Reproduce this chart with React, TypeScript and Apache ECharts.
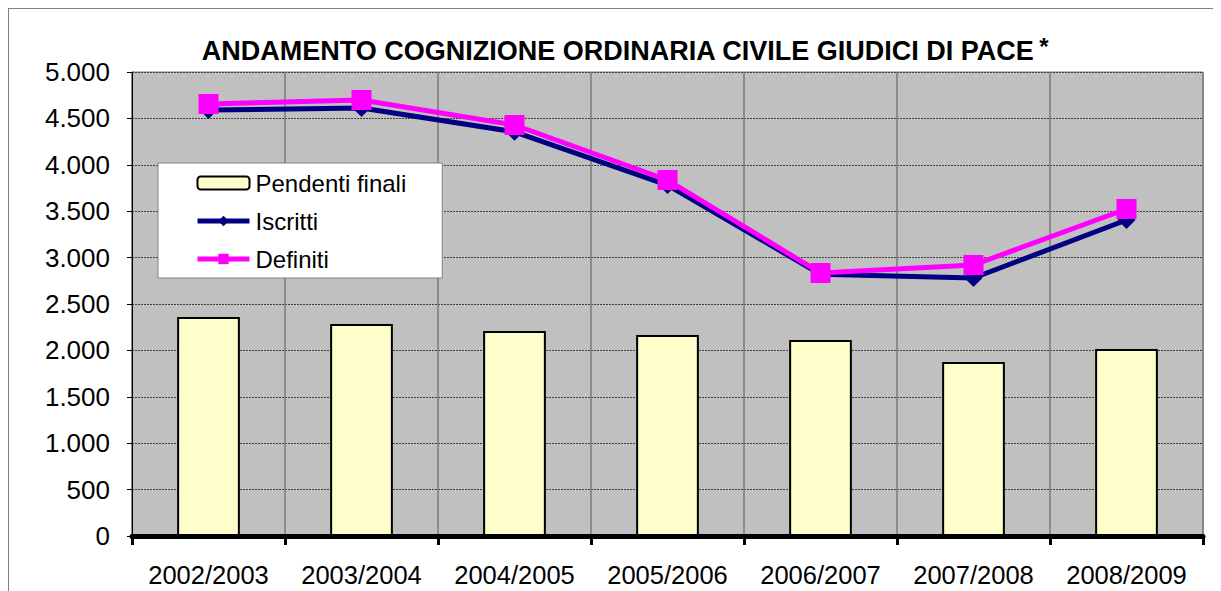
import React, { useEffect, useRef } from "react";
import * as echarts from "echarts";

const categories = ["2002/2003", "2003/2004", "2004/2005", "2005/2006", "2006/2007", "2007/2008", "2008/2009"];
const pendentiFinali = [2360, 2284, 2209, 2166, 2112, 1875, 2015];
const iscritti = [4590, 4612, 4355, 3782, 2820, 2780, 3405];
const definiti = [4655, 4698, 4429, 3836, 2834, 2920, 3524];
const titleText = "ANDAMENTO COGNIZIONE ORDINARIA CIVILE GIUDICI DI PACE";

const fmt = (v: number) =>
  v >= 1000 ? Math.floor(v / 1000) + "." + String(v % 1000).padStart(3, "0") : String(v);

export default function App() {
  const ref = useRef<HTMLDivElement>(null);
  useEffect(() => {
    if (!ref.current) return;
    const chart = echarts.init(ref.current, null, { renderer: "svg" });
    const font = "Liberation Sans, Arial, sans-serif";
    chart.setOption({
      animation: false,
      backgroundColor: "#ffffff",
      textStyle: { fontFamily: font },
      title: {
        text: "{t|" + titleText + "} {s|*}",
        left: 611,
        top: 20,
        textAlign: "center",
        textStyle: {
          rich: {
            t: { fontSize: 27, fontWeight: "bold", color: "#000", fontFamily: font },
            s: { fontSize: 24, fontWeight: "bold", color: "#000", fontFamily: font, verticalAlign: "top", padding: [0, 0, 10, 0] },
          },
        },
      },
      legend: {
        orient: "vertical",
        left: 149,
        top: 154,
        padding: [8, 36, 7, 37],
        itemGap: 14,
        itemWidth: 52,
        itemHeight: 13,
        backgroundColor: "#ffffff",
        borderColor: "#808080",
        borderWidth: 1,
        borderRadius: 0,
        textStyle: { fontSize: 24, color: "#000", fontFamily: font, padding: [0, 0, 0, 1] },
        data: [
          { name: "Pendenti finali", itemStyle: { color: "#FFFFCC", borderColor: "#000", borderWidth: 2 } },
          { name: "Iscritti", lineStyle: { width: 5, color: "#000080" } },
          { name: "Definiti", lineStyle: { width: 5, color: "#FF00FF" } },
        ],
      },
      grid: {
        left: 123,
        top: 63,
        right: 18,
        bottom: 55,
        show: true,
        backgroundColor: "#C0C0C0",
        borderColor: "#808080",
        borderWidth: 1,
      },
      xAxis: {
        type: "category",
        data: categories,
        boundaryGap: true,
        axisLine: { show: true, lineStyle: { color: "#000", width: 5 } },
        axisTick: { show: true, interval: 0, length: 9, lineStyle: { color: "#000", width: 3 } },
        axisLabel: { fontSize: 25.5, interval: 0, color: "#000", margin: 26, fontFamily: font },
        splitLine: { show: true, interval: 0, lineStyle: { color: "#7a7a7a", width: 1.5 } },
      },
      yAxis: {
        type: "value",
        min: 0,
        max: 5000,
        interval: 500,
        axisLine: { show: true, lineStyle: { color: "#000", width: 1 } },
        axisTick: { show: true, length: 5, lineStyle: { color: "#000" } },
        axisLabel: { fontSize: 26, color: "#000", margin: 22, formatter: fmt, fontFamily: font },
        splitLine: { show: true, lineStyle: { color: "#404040", width: 1, type: [2, 1] } },
      },
      series: [
        {
          name: "Pendenti finali",
          type: "bar",
          data: pendentiFinali,
          barWidth: "41%",
          itemStyle: { color: "#FFFFCC", borderColor: "#000", borderWidth: 2 },
        },
        {
          name: "Iscritti",
          type: "line",
          data: iscritti,
          symbol: "diamond",
          symbolSize: [18, 18],
          lineStyle: { color: "#000080", width: 5 },
          itemStyle: { color: "#000080" },
          z: 3,
        },
        {
          name: "Definiti",
          type: "line",
          data: definiti,
          symbol: "rect",
          symbolSize: 20,
          lineStyle: { color: "#FF00FF", width: 5 },
          itemStyle: { color: "#FF00FF" },
          z: 4,
        },
      ],
    });
    return () => chart.dispose();
  }, []);
  return (
    <div style={{ width: 1213, height: 583, borderTop: "1px solid #808080", borderLeft: "1px solid #808080", boxSizing: "content-box" }}>
      <div ref={ref} style={{ width: 1212, height: 582 }} />
    </div>
  );
}
